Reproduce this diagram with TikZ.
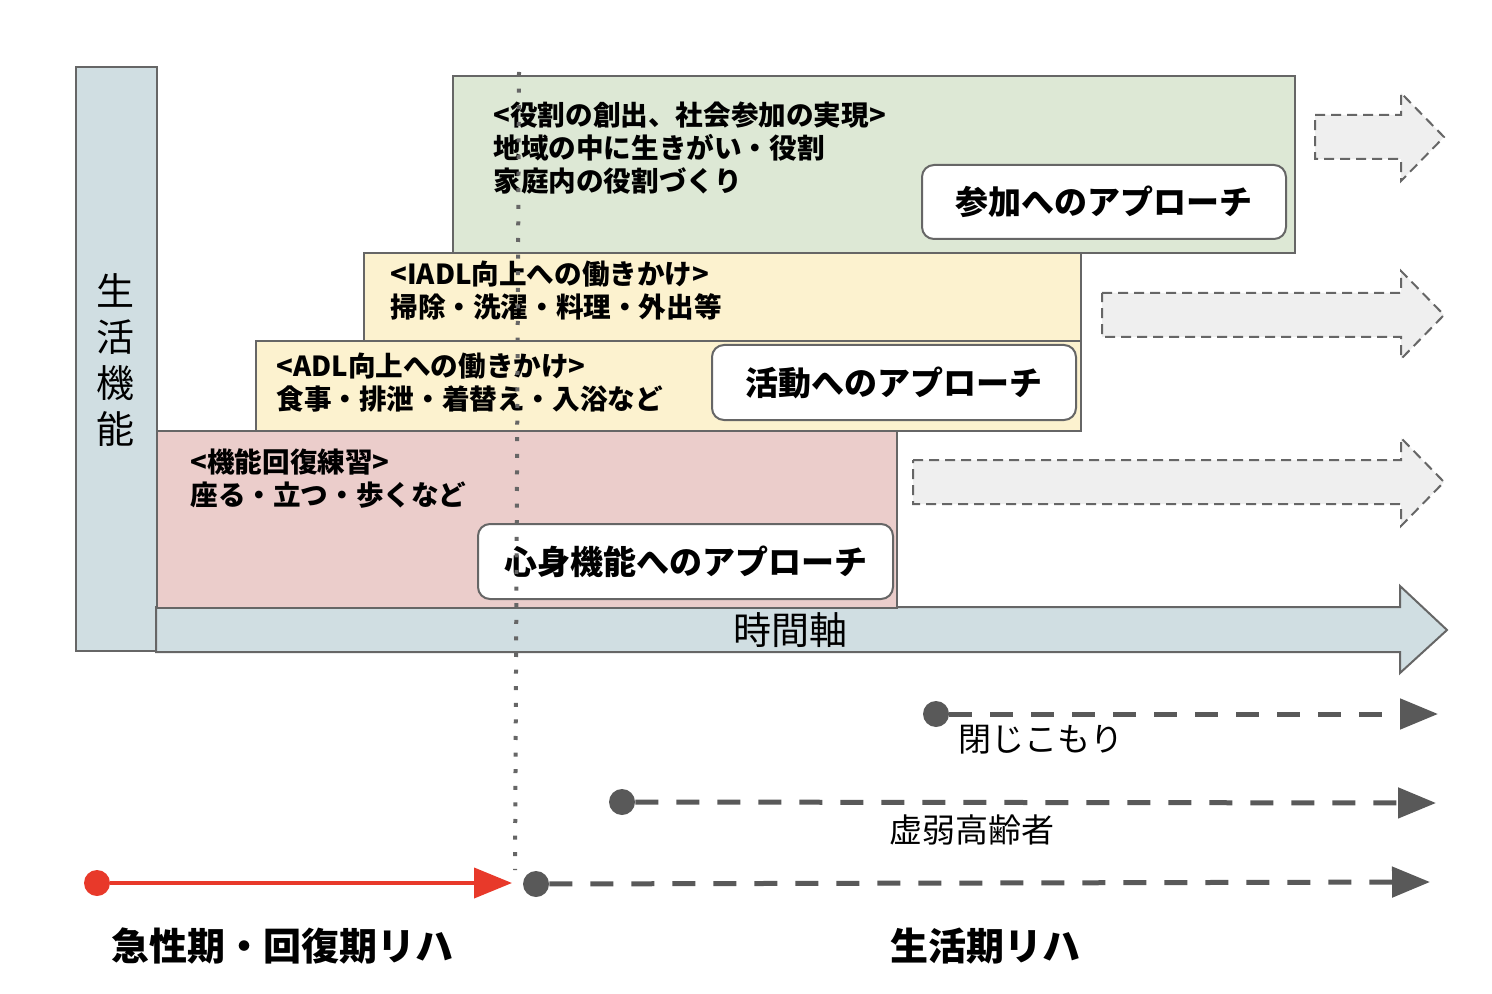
\documentclass[tikz,border=0pt]{standalone}
\usepackage{fontspec}
\setmainfont{Noto Sans CJK JP}
\usetikzlibrary{arrows.meta,positioning}
\definecolor{axisblue}{HTML}{D0DEE2}
\definecolor{bodypink}{HTML}{EBCDCB}
\definecolor{actyellow}{HTML}{FCF2CF}
\definecolor{partgreen}{HTML}{DDE8D5}
\definecolor{edgegray}{HTML}{666666}
\definecolor{linegray}{HTML}{595959}
\definecolor{fadegray}{HTML}{EFEFEF}
\definecolor{acutered}{HTML}{E8392A}
\tikzset{
    stage/.style = {draw=edgegray, line width=1pt, rectangle, anchor=north west, inner sep=0pt},
    approach/.style = {draw=edgegray, line width=1pt, fill=white, rounded corners=6pt, inner sep=0pt,
        anchor=north west, font=\bfseries\fontsize{16.5pt}{18pt}\selectfont},
    bodytxt/.style = {anchor=west, align=left, inner sep=0pt,
        font=\bfseries\fontsize{13.8pt}{16.5pt}\selectfont},
    dot/.style = {circle, fill=#1, inner sep=0pt, minimum size=13pt},
    dashline/.style = {draw=linegray, line width=2.5pt, dash pattern=on 11.5pt off 9pt,
        -{Triangle[length=19pt,width=15pt]}},
    plaintxt/.style = {inner sep=0pt, font=\fontsize{16.5pt}{18pt}\selectfont},
    phase/.style = {inner sep=0pt, font=\bfseries\fontsize{19pt}{21pt}\selectfont}
}
\begin{document}
\begin{tikzpicture}[x=0.5pt,y=-0.5pt]
    \useasboundingbox (0,0) rectangle (1492,994);
    % vertical axis
    \node [stage, fill=axisblue, minimum width=40.5pt, minimum height=292pt] (life) at (75,66) {};
    \node [align=center, inner sep=0pt, font=\fontsize{19pt}{23pt}\selectfont] (lifetxt) at (115,360) {生\\活\\機\\能};
    % time axis
    \draw [draw=edgegray, line width=1pt, fill=axisblue] (156,607) -- (1400,607) -- (1400,586) -- (1447,630)
        -- (1400,673) -- (1400,652) -- (156,652) -- cycle;
    \node [plaintxt, font=\fontsize{19pt}{21pt}\selectfont] (timetxt) at (790,630) {時間軸};
    % stage boxes
    \node [stage, fill=bodypink, minimum width=370pt, minimum height=88.5pt] (body) at (156,430) {};
    \node [stage, fill=actyellow, minimum width=412.5pt, minimum height=45pt] (adl) at (255,340) {};
    \node [stage, fill=actyellow, minimum width=358.5pt, minimum height=44pt] (iadl) at (363,252) {};
    \node [stage, fill=partgreen, minimum width=421pt, minimum height=88.5pt] (part) at (452,75) {};
    \node [bodytxt] (parttxt) at (493,148) {<役割の創出、社会参加の実現>\\地域の中に生きがい・役割\\家庭内の役割づくり};
    \node [bodytxt] (iadltxt) at (390,290.5) {<IADL向上への働きかけ>\\掃除・洗濯・料理・外出等};
    \node [bodytxt] (adltxt) at (276,383) {<ADL向上への働きかけ>\\食事・排泄・着替え・入浴など};
    \node [bodytxt] (bodytxt) at (190,479) {<機能回復練習>\\座る・立つ・歩くなど};
    \node [approach, minimum width=207.5pt, minimum height=37.5pt] (bodyapp) at (477,523) {心身機能へのアプローチ};
    \node [approach, minimum width=182pt, minimum height=37.5pt] (actapp) at (711,344) {活動へのアプローチ};
    \node [approach, minimum width=182pt, minimum height=37pt] (partapp) at (921,164) {参加へのアプローチ};
    % continuation arrows
    \foreach \xl/\yc in {1315/137,1102/315,913/482}{
        \draw [draw=edgegray, line width=1pt, fill=fadegray, dash pattern=on 5pt off 3pt]
            (\xl,\yc-22) -- (1401,\yc-22) -- (1401,\yc-44) -- (1444,\yc) -- (1401,\yc+44)
            -- (1401,\yc+22) -- (\xl,\yc+22) -- cycle;
    }
    % phase border
    \coordinate (bordertop) at (519,72);
    \coordinate (borderbot) at (515,870);
    \draw [edgegray, line width=2pt, dash pattern=on 2pt off 6.3pt] (bordertop) -- (borderbot);
    % courses
    \node [dot=linegray] (recluse) at (936,714) {};
    \coordinate (recluseend) at (1438,714);
    \draw [dashline] (recluse) -- (recluseend);
    \node [plaintxt, anchor=west] (recluselbl) at (958,740) {閉じこもり};
    \node [dot=linegray] (frail) at (622,802) {};
    \coordinate (frailend) at (1436,803);
    \draw [dashline] (frail) -- (frailend);
    \node [plaintxt] (fraillbl) at (972,830) {虚弱高齢者};
    \node [dot=linegray] (living) at (536,884) {};
    \coordinate (livingend) at (1430,882);
    \draw [dashline] (living) -- (livingend);
    \node [dot=acutered] (acute) at (97,883) {};
    \coordinate (acuteend) at (512,883);
    \draw [acutered, line width=2pt, -{Triangle[length=19pt,width=15pt]}] (acute) -- (acuteend);
    % phase labels
    \node [phase] (acutelbl) at (282,946) {急性期・回復期リハ};
    \node [phase] (livinglbl) at (985,946) {生活期リハ};
\end{tikzpicture}
\end{document}
